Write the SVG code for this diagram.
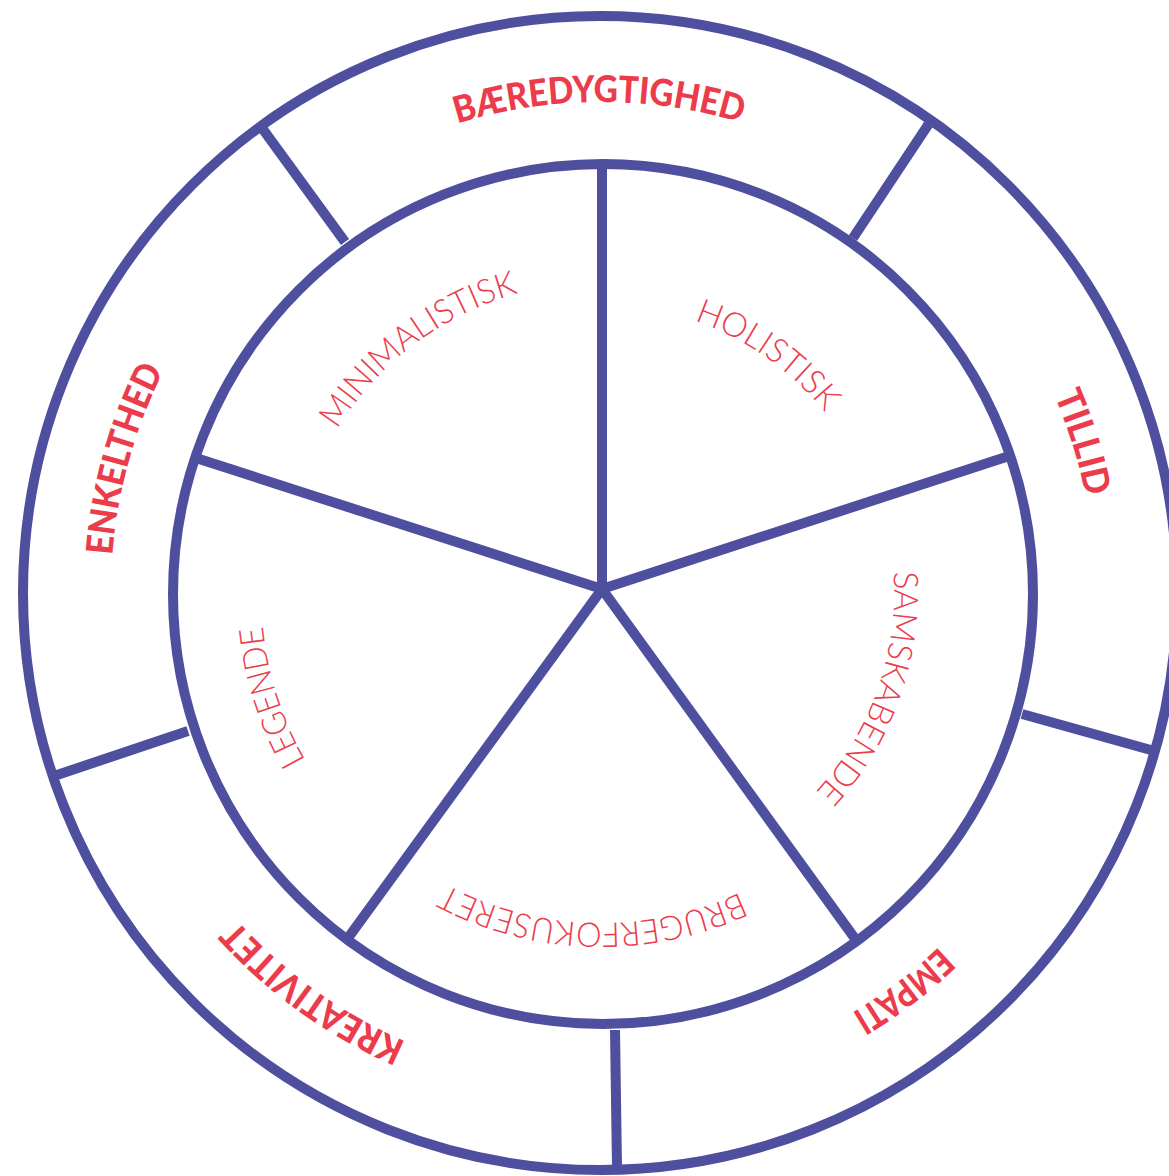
<svg xmlns="http://www.w3.org/2000/svg" width="1169" height="1176" viewBox="0 0 1169 1176">
<style>
.ring{fill:none;stroke:#4f4f9f;stroke-width:10}
.line{stroke:#4f4f9f;stroke-width:10;stroke-linecap:butt;fill:none}
.outer{font-family:Lato,"Liberation Sans",sans-serif;font-weight:900;font-size:37px;fill:#ec3c4c}
.inner{font-family:Lato,"Liberation Sans",sans-serif;font-weight:300;font-size:34px;fill:#ec3c4c}
</style>
<defs>
<path id="pO" d="M111,592 A490,490 0 1 1 1091,592 A490,490 0 1 1 111,592"/>
<path id="pT" d="M107,592 A494,494 0 1 1 1095,592 A494,494 0 1 1 107,592"/>
<path id="pMin" d="M291,592 A310,310 0 1 1 911,592 A310,310 0 1 1 291,592"/>
<path id="pHol" d="M314,592 A287,287 0 1 1 888,592 A287,287 0 1 1 314,592"/>
<path id="pSam" d="M308,592 A293,293 0 1 1 894,592 A293,293 0 1 1 308,592"/>
<path id="pBru" d="M270,592 A331,331 0 1 1 932,592 A331,331 0 1 1 270,592"/>
<path id="pLeg" d="M261,592 A340,340 0 1 1 941,592 A340,340 0 1 1 261,592"/>
</defs>
<rect width="1169" height="1176" fill="#ffffff"/>
<g id="connectors">
<line class="line" x1="602" y1="589" x2="602" y2="164"/>
<line class="line" x1="602" y1="589" x2="1006" y2="457"/>
<line class="line" x1="602" y1="589" x2="856" y2="940"/>
<line class="line" x1="602" y1="589" x2="348" y2="938"/>
<line class="line" x1="602" y1="589" x2="196" y2="458"/>
<line class="line" x1="262" y1="128" x2="345" y2="242"/>
<line class="line" x1="930" y1="122" x2="853" y2="238"/>
<line class="line" x1="1022" y1="714" x2="1158" y2="752"/>
<line class="line" x1="615" y1="1030" x2="617" y2="1168"/>
<line class="line" x1="57" y1="775" x2="188" y2="731"/>
</g>
<g id="outer-ring"><circle class="ring" cx="600" cy="593" r="577"/></g>
<g id="inner-ring"><circle class="ring" cx="603" cy="594" r="430"/></g>
<g id="baeredygtighed"><text class="outer"><textPath href="#pO" startOffset="24.94%" text-anchor="middle" textLength="288" lengthAdjust="spacingAndGlyphs">BÆREDYGTIGHED</textPath></text></g>
<g id="tillid"><text class="outer"><textPath href="#pT" startOffset="45.2%" text-anchor="middle" textLength="106" lengthAdjust="spacingAndGlyphs">TILLID</textPath></text></g>
<g id="empati"><text class="outer"><textPath href="#pO" startOffset="64.67%" text-anchor="middle" textLength="110" lengthAdjust="spacingAndGlyphs">EMPATI</textPath></text></g>
<g id="kreativitet"><text class="outer"><textPath href="#pO" startOffset="84.92%" text-anchor="middle" textLength="210" lengthAdjust="spacingAndGlyphs">KREATIVITET</textPath></text></g>
<g id="enkelthed"><text class="outer"><textPath href="#pO" startOffset="4.33%" text-anchor="middle" textLength="193" lengthAdjust="spacingAndGlyphs">ENKELTHED</textPath></text></g>
<g id="minimalistisk"><text class="inner"><textPath href="#pMin" startOffset="14.75%" text-anchor="middle" textLength="232" lengthAdjust="spacingAndGlyphs">MINIMALISTISK</textPath></text></g>
<g id="holistisk"><text class="inner"><textPath href="#pHol" startOffset="34.75%" text-anchor="middle" textLength="162" lengthAdjust="spacingAndGlyphs">HOLISTISK</textPath></text></g>
<g id="samskabende"><text class="inner"><textPath href="#pSam" startOffset="55.42%" text-anchor="middle" textLength="240" lengthAdjust="spacingAndGlyphs">SAMSKABENDE</textPath></text></g>
<g id="brugerfokuseret"><text class="inner"><textPath href="#pBru" startOffset="75.42%" text-anchor="middle" textLength="305" lengthAdjust="spacingAndGlyphs">BRUGERFOKUSERET</textPath></text></g>
<g id="legende"><text class="inner"><textPath href="#pLeg" startOffset="95.08%" text-anchor="middle" textLength="142" lengthAdjust="spacingAndGlyphs">LEGENDE</textPath></text></g>
</svg>
